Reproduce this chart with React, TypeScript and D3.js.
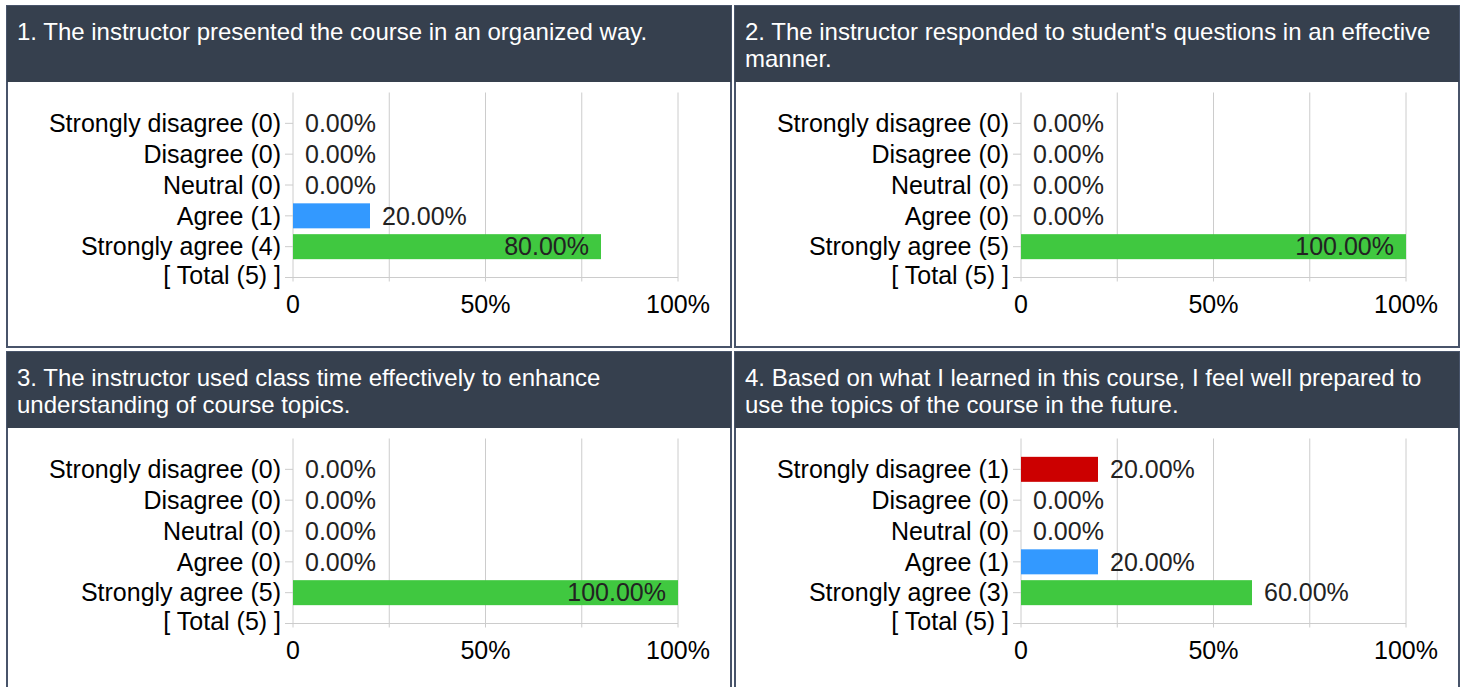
import React, { useMemo } from 'react';
import * as d3 from 'd3';

const titles = [
  ['1. The instructor presented the course in an organized way.'],
  ["2. The instructor responded to student's questions in an effective", 'manner.'],
  ['3. The instructor used class time effectively to enhance', 'understanding of course topics.'],
  ['4. Based on what I learned in this course, I feel well prepared to', 'use the topics of the course in the future.'],
];

const categories = ['Strongly disagree', 'Disagree', 'Neutral', 'Agree', 'Strongly agree'];
const catColors = ['#cc0000', '#ff9900', '#ffcc00', '#3399ff', '#40c840'];

const q1Counts = [0, 0, 0, 1, 4];
const q2Counts = [0, 0, 0, 0, 5];
const q3Counts = [0, 0, 0, 0, 5];
const q4Counts = [1, 0, 0, 1, 3];
const allCounts = [q1Counts, q2Counts, q3Counts, q4Counts];

const xTicks = [0, 25, 50, 75, 100];
const xLabels = [0, 50, 100];

const FONT = 'Arial, "Liberation Sans", sans-serif';
const FS = 25;
const W = 1465;
const H = 687;
const panelW = 724;
const panelH = 341;
const headerH = 76;
const colX = [7, 735];
const rowY = [6, 352];

let ctx: CanvasRenderingContext2D | null = null;
const textWidth = (s: string) => {
  if (!ctx) ctx = document.createElement('canvas').getContext('2d');
  if (!ctx) return s.length * 14;
  ctx.font = `${FS}px ${FONT}`;
  return ctx.measureText(s).width;
};

const Panel = ({ x0, y0, title, counts }) => {
  const total = d3.sum(counts);
  const plotL = x0 + 286;
  const plotW = 385;
  const plotT = y0 + 86.5;
  const plotH = 185;

  const x = d3.scaleLinear().domain([0, 100]).range([plotL, plotL + plotW]);
  const y = d3.scaleLinear().domain([0, categories.length + 1]).range([plotT, plotT + plotH]);

  const rows = categories.map((c, i) => ({
    label: `${c} (${counts[i]})`,
    pct: total ? (counts[i] / total) * 100 : 0,
    color: catColors[i],
    pos: i + 1,
  }));
  const totalPos = categories.length + 1;
  const barH = 25;
  const gray = '#cccccc';

  return (
    <g>
      <rect x={x0} y={y0} width={panelW} height={panelH} fill="#fff" stroke="#48546a" strokeWidth={2} />
      <rect x={x0} y={y0} width={panelW} height={headerH} fill="#36404e" />
      {title.map((t, i) => (
        <text key={i} x={x0 + 10} y={y0 + 34 + i * 27} fill="#fff" fontSize={24} fontFamily={FONT}>
          {t}
        </text>
      ))}

      {xTicks.map(t => (
        <line key={t} x1={x(t)} x2={x(t)} y1={plotT} y2={plotT + plotH + 4} stroke={gray} strokeWidth={1} />
      ))}
      <line x1={plotL} x2={plotL + plotW} y1={y(totalPos)} y2={y(totalPos)} stroke={gray} />

      {rows.map(r => (
        <g key={r.label}>
          <line x1={plotL - 8} x2={plotL} y1={y(r.pos)} y2={y(r.pos)} stroke={gray} />
          <text x={plotL - 12} y={y(r.pos)} dy="0.35em" textAnchor="end" fontSize={FS} fontFamily={FONT} fill="#000">
            {r.label}
          </text>
          {r.pct > 0 && (
            <rect x={x(0)} y={y(r.pos) - barH / 2} width={x(r.pct) - x(0)} height={barH} fill={r.color} />
          )}
        </g>
      ))}
      {rows.map(r => {
        const s = `${r.pct.toFixed(2)}%`;
        const end = x(r.pct);
        const outside = end + 12 + textWidth(s) <= plotL + plotW;
        return (
          <text
            key={'v' + r.label}
            x={outside ? end + 12 : end - 12}
            y={y(r.pos)}
            dy="0.35em"
            textAnchor={outside ? 'start' : 'end'}
            fontSize={FS}
            fontFamily={FONT}
            fill="#222"
          >
            {s}
          </text>
        );
      })}
      <line x1={plotL - 8} x2={plotL} y1={y(totalPos)} y2={y(totalPos)} stroke={gray} />
      <text x={plotL - 12} y={y(totalPos) - 2} dy="0.35em" textAnchor="end" fontSize={FS} fontFamily={FONT} fill="#000">
        {`[ Total (${total}) ]`}
      </text>

      {xLabels.map(t => (
        <text key={t} x={x(t)} y={plotT + plotH + 35} textAnchor="middle" fontSize={FS} fontFamily={FONT} fill="#000">
          {t === 0 ? '0' : `${t}%`}
        </text>
      ))}
    </g>
  );
};

export default function App() {
  const panels = useMemo(
    () =>
      allCounts.map((counts, i) => ({
        counts,
        title: titles[i],
        x0: colX[i % 2],
        y0: rowY[Math.floor(i / 2)],
      })),
    []
  );
  return (
    <svg width={W} height={H} style={{ position: 'absolute', left: 0, top: 0, background: '#fff' }}>
      {panels.map((p, i) => (
        <Panel key={i} {...p} />
      ))}
    </svg>
  );
}
